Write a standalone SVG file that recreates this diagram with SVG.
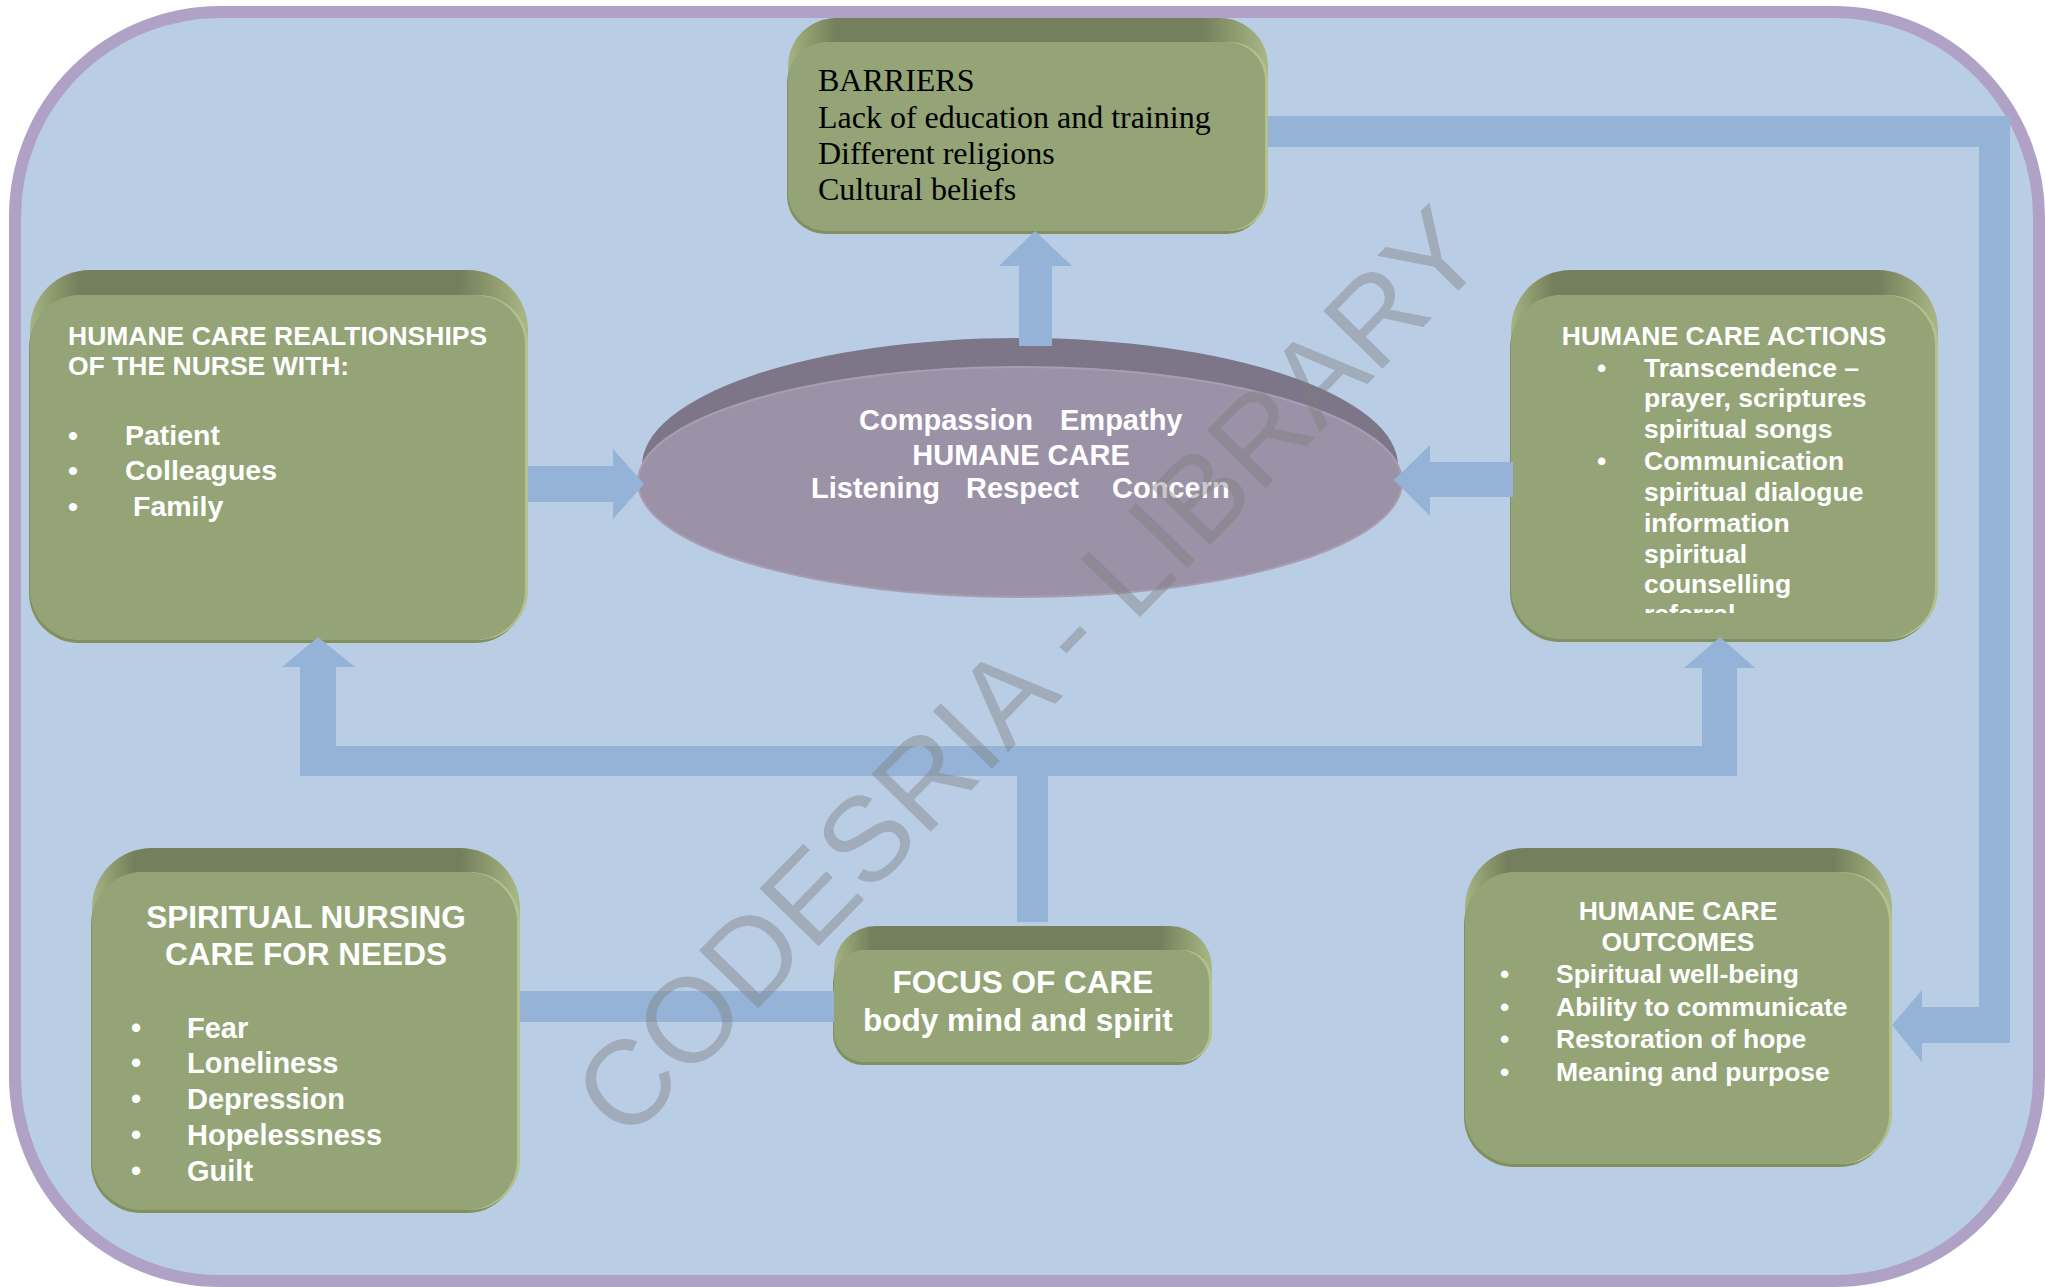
<svg xmlns="http://www.w3.org/2000/svg" width="2045" height="1287" viewBox="0 0 2045 1287">
<defs>
<linearGradient id="band" x1="0" y1="0" x2="1" y2="0">
<stop offset="0" stop-color="#A5B485"/>
<stop offset="0.05" stop-color="#8C996B"/>
<stop offset="0.1" stop-color="#737F5D"/>
<stop offset="0.86" stop-color="#737F5D"/>
<stop offset="0.93" stop-color="#8E9B6E"/>
<stop offset="1" stop-color="#A9B887"/>
</linearGradient>
<clipPath id="clipAct"><rect x="1500" y="280" width="440" height="333"/></clipPath>
<style>
.band{fill:url(#band)}
.shd{fill:#80905F}
.hl{fill:#B3C18E}
.face{fill:#94A476}
.conn{fill:#95B3D7}
.t{font-family:"Liberation Sans",Arial,Helvetica,sans-serif;font-weight:bold;fill:#FFFFFF}
.s26{font-size:26.5px}
.s28{font-size:28.5px}
.s29{font-size:29px}
.s31{font-size:31.5px}
.mid{text-anchor:middle}
.ser{font-family:"Liberation Serif","Times New Roman",serif;font-size:32px;fill:#000000}
.wm{font-family:"Liberation Sans",Arial,sans-serif;font-size:120px;fill:#7F7F7F;opacity:0.42;text-anchor:middle}
</style>
</defs>

<rect id="frame" x="15" y="12" width="2024" height="1269" rx="205" ry="205" fill="#B9CDE4" stroke="#B0A2C7" stroke-width="12"/>

<g id="node-barriers">
<rect class="band" x="788" y="18" width="480" height="120" rx="48"/>
<rect class="shd" x="787" y="45" width="478" height="189" rx="38"/>
<rect class="hl" x="791" y="42" width="477" height="189" rx="38"/>
<rect class="face" x="788" y="42" width="477" height="189" rx="38"/>
<text class="ser" x="818" y="91">BARRIERS</text>
<text class="ser" x="818" y="128">Lack of education and training</text>
<text class="ser" x="818" y="164">Different religions</text>
<text class="ser" x="818" y="200">Cultural beliefs</text>
</g>

<g id="node-relationships">
<rect class="band" x="30" y="270" width="498" height="200" rx="60"/>
<rect class="shd" x="29" y="298" width="496" height="345" rx="50"/>
<rect class="hl" x="33" y="295" width="495" height="345" rx="50"/>
<rect class="face" x="30" y="295" width="495" height="345" rx="50"/>
<text class="t s26" x="68" y="345">HUMANE CARE REALTIONSHIPS</text>
<text class="t s26" x="68" y="375">OF THE NURSE WITH:</text>
<text class="t s28" x="68" y="445">•</text>
<text class="t s28" x="125" y="445">Patient</text>
<text class="t s28" x="68" y="480">•</text>
<text class="t s28" x="125" y="480">Colleagues</text>
<text class="t s28" x="68" y="516">•</text>
<text class="t s28" x="133" y="516">Family</text>
</g>

<g id="node-humane-care">
<ellipse cx="1020" cy="466" rx="378" ry="128" fill="#7D7588"/>
<ellipse cx="1020" cy="482" rx="382" ry="115" fill="#9C92A7" stroke="#A99DB3" stroke-width="2"/>
<text class="t s29" x="859" y="430">Compassion</text>
<text class="t s29" x="1060" y="430">Empathy</text>
<text class="t s29 mid" x="1021" y="465">HUMANE CARE</text>
<text class="t s29" x="811" y="498">Listening</text>
<text class="t s29" x="966" y="498">Respect</text>
<text class="t s29" x="1112" y="498">Concern</text>
</g>

<g id="node-actions">
<rect class="band" x="1511" y="270" width="427" height="200" rx="60"/>
<rect class="shd" x="1510" y="298" width="425" height="344" rx="50"/>
<rect class="hl" x="1514" y="295" width="424" height="344" rx="50"/>
<rect class="face" x="1511" y="295" width="424" height="344" rx="50"/>
<text class="t s26 mid" x="1724" y="345">HUMANE CARE ACTIONS</text>
<g clip-path="url(#clipAct)">
<text class="t s26" x="1597" y="377">•</text>
<text class="t s26" x="1644" y="377">Transcendence –</text>
<text class="t s26" x="1644" y="407">prayer, scriptures</text>
<text class="t s26" x="1644" y="438">spiritual songs</text>
<text class="t s26" x="1597" y="470">•</text>
<text class="t s26" x="1644" y="470">Communication</text>
<text class="t s26" x="1644" y="501">spiritual dialogue</text>
<text class="t s26" x="1644" y="532">information</text>
<text class="t s26" x="1644" y="563">spiritual</text>
<text class="t s26" x="1644" y="593">counselling</text>
<text class="t s26" x="1644" y="623">referral</text>
</g>
</g>

<g id="node-spiritual-needs">
<rect class="band" x="92" y="848" width="428" height="200" rx="60"/>
<rect class="shd" x="91" y="875" width="426" height="338" rx="50"/>
<rect class="hl" x="95" y="872" width="425" height="338" rx="50"/>
<rect class="face" x="92" y="872" width="425" height="338" rx="50"/>
<text class="t s31 mid" x="306" y="928">SPIRITUAL NURSING</text>
<text class="t s31 mid" x="306" y="965">CARE FOR NEEDS</text>
<text class="t s29" x="131" y="1038">•</text>
<text class="t s29" x="187" y="1038">Fear</text>
<text class="t s29" x="131" y="1073">•</text>
<text class="t s29" x="187" y="1073">Loneliness</text>
<text class="t s29" x="131" y="1109">•</text>
<text class="t s29" x="187" y="1109">Depression</text>
<text class="t s29" x="131" y="1145">•</text>
<text class="t s29" x="187" y="1145">Hopelessness</text>
<text class="t s29" x="131" y="1181">•</text>
<text class="t s29" x="187" y="1181">Guilt</text>
</g>

<g id="node-focus">
<rect class="band" x="834" y="926" width="378" height="100" rx="42"/>
<rect class="shd" x="833" y="953" width="376" height="112" rx="30"/>
<rect class="hl" x="837" y="950" width="375" height="112" rx="30"/>
<rect class="face" x="834" y="950" width="375" height="112" rx="30"/>
<text class="t s31 mid" x="1023" y="993">FOCUS OF CARE</text>
<text class="t s31 mid" x="1018" y="1031">body mind and spirit</text>
</g>

<g id="node-outcomes">
<rect class="band" x="1465" y="848" width="427" height="200" rx="60"/>
<rect class="shd" x="1464" y="875" width="425" height="292" rx="50"/>
<rect class="hl" x="1468" y="872" width="424" height="292" rx="50"/>
<rect class="face" x="1465" y="872" width="424" height="292" rx="50"/>
<text class="t s26 mid" x="1678" y="920">HUMANE CARE</text>
<text class="t s26 mid" x="1678" y="951">OUTCOMES</text>
<text class="t s26" x="1500" y="983">•</text>
<text class="t s26" x="1556" y="983">Spiritual well-being</text>
<text class="t s26" x="1500" y="1016">•</text>
<text class="t s26" x="1556" y="1016">Ability to communicate</text>
<text class="t s26" x="1500" y="1048">•</text>
<text class="t s26" x="1556" y="1048">Restoration of hope</text>
<text class="t s26" x="1500" y="1081">•</text>
<text class="t s26" x="1556" y="1081">Meaning and purpose</text>
</g>

<g id="connectors">
<polygon class="conn" points="1268,116 2010,116 2010,1043 1922,1043 1922,1062 1892,1025 1922,990 1922,1007 1979,1007 1979,147 1268,147"/>
<polygon class="conn" points="1019,346 1019,266 999,266 1035,231 1072,266 1052,266 1052,346"/>
<polygon class="conn" points="528,466 613,466 613,449 644,484 613,519 613,502 528,502"/>
<polygon class="conn" points="1513,462 1430,462 1430,445 1394,480 1430,516 1430,497 1513,497"/>
<polygon class="conn" points="1017,922 1017,776 300,776 300,667 282,667 318,637 355,667 336,667 336,746 1702,746 1702,668 1684,668 1720,637 1755,668 1737,668 1737,776 1048,776 1048,922"/>
<rect class="conn" x="520" y="991" width="314" height="31"/>
</g>

<text class="wm" x="1058" y="701" transform="rotate(-45.7 1058 701)">CODESRIA - LIBRARY</text>
</svg>
